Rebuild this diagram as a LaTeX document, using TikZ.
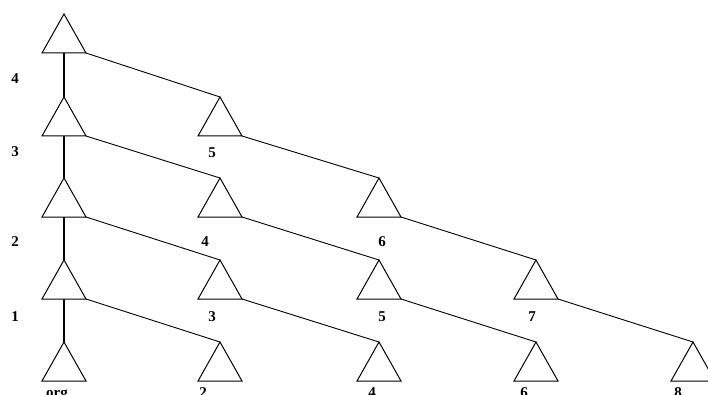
\documentclass[tikz,border=0pt]{standalone}
\usepackage{fontspec}
\setmainfont{Liberation Serif}
\begin{document}
\begin{tikzpicture}[x=1pt,y=-1pt,
  tri/.style={draw=black,line width=1pt,line join=miter},
  vline/.style={draw=black,line width=2pt},
  dline/.style={draw=black,line width=0.9pt},
  lab/.style={inner sep=0pt,font=\fontsize{15}{15}\selectfont\bfseries}]
\useasboundingbox (0,0) rectangle (708,395);
\newcommand\mytri[3]{%
  \coordinate (#1) at (#2,#3);
  \coordinate (#1-r) at (#2+22,#3+39);
  \coordinate (#1-b) at (#2,#3+39);
  \draw[tri] (#1) -- (#2-22,#3+39) -- (#1-r) -- cycle;}
% row 0 (top)
\mytri{t00}{64}{14}
% row 1
\mytri{t10}{64}{97}
\mytri{t11}{220}{97}
% row 2
\mytri{t20}{64}{178}
\mytri{t21}{220}{178}
\mytri{t22}{379}{178}
% row 3
\mytri{t30}{64}{260}
\mytri{t31}{220}{260}
\mytri{t32}{379}{260}
\mytri{t33}{536}{260}
% row 4
\mytri{t40}{64}{342}
\mytri{t41}{220}{342}
\mytri{t42}{379}{342}
\mytri{t43}{536}{342}
\mytri{t44}{693}{342}
% vertical connectors
\draw[vline] (t00-b) -- (t10);
\draw[vline] (t10-b) -- (t20);
\draw[vline] (t20-b) -- (t30);
\draw[vline] (t30-b) -- (t40);
% diagonal connectors
\draw[dline] (t00-r) -- (t11);
\draw[dline] (t10-r) -- (t21);
\draw[dline] (t11-r) -- (t22);
\draw[dline] (t20-r) -- (t31);
\draw[dline] (t21-r) -- (t32);
\draw[dline] (t22-r) -- (t33);
\draw[dline] (t30-r) -- (t41);
\draw[dline] (t31-r) -- (t42);
\draw[dline] (t32-r) -- (t43);
\draw[dline] (t33-r) -- (t44);
% level labels
\node[lab] (L4) at (15,79) {4};
\node[lab] (L3) at (15,152) {3};
\node[lab] (L2) at (15,242) {2};
\node[lab] (L1) at (15,317) {1};
% triangle labels
\node[lab] (n11) at (212,153) {5};
\node[lab] (n21) at (205,242) {4};
\node[lab] (n22) at (382,242) {6};
\node[lab] (n31) at (212,317) {3};
\node[lab] (n32) at (382,317) {5};
\node[lab] (n33) at (532,317) {7};
\node[lab,anchor=base] (n40) at (57,397) {org};
\node[lab,anchor=base] (n41) at (203,397) {2};
\node[lab,anchor=base] (n42) at (372,397) {4};
\node[lab,anchor=base] (n43) at (524,397) {6};
\node[lab,anchor=base] (n44) at (678,397) {8};
\end{tikzpicture}
\end{document}
